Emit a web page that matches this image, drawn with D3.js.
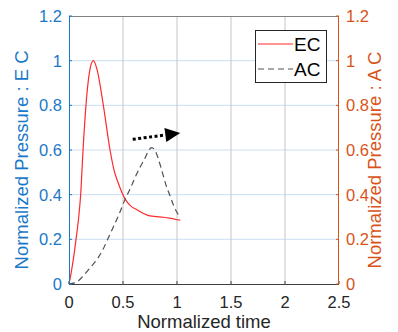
<!DOCTYPE html>
<html>
<head>
<meta charset="utf-8">
<script src="https://d3js.org/d3.v7.min.js"></script>
<style>
  body { margin: 0; background: #fff; }
  svg { font-family: "Liberation Sans", Arial, sans-serif; }
</style>
</head>
<body>
<svg width="398" height="332"></svg>
<script>
// data
const ecTime = [0, 0.02, 0.04, 0.065, 0.09, 0.108, 0.13, 0.157, 0.19, 0.225, 0.26, 0.318, 0.38, 0.417, 0.45, 0.49, 0.52, 0.57, 0.63, 0.69, 0.75, 0.81, 0.873, 0.93, 0.98, 1.03];
const ecVal  = [0, 0.05, 0.11, 0.2, 0.3, 0.4, 0.6, 0.8, 0.95, 1.0, 0.96, 0.8, 0.6, 0.51, 0.46, 0.41, 0.38, 0.35, 0.332, 0.316, 0.305, 0.302, 0.299, 0.295, 0.29, 0.286];
const acTime = [0, 0.05, 0.1, 0.148, 0.2, 0.256, 0.31, 0.358, 0.42, 0.47, 0.52, 0.57, 0.61, 0.66, 0.7, 0.735, 0.765, 0.8, 0.83, 0.87, 0.9, 0.935, 0.97, 1.0, 1.03];
const acVal  = [0, 0.005, 0.02, 0.045, 0.075, 0.108, 0.15, 0.2, 0.265, 0.32, 0.38, 0.43, 0.475, 0.525, 0.56, 0.595, 0.611, 0.595, 0.556, 0.49, 0.44, 0.395, 0.35, 0.32, 0.30];
const xTicks = [0, 0.5, 1, 1.5, 2, 2.5];
const yTicks = [0, 0.2, 0.4, 0.6, 0.8, 1, 1.2];
const arrowFrom = [0.59, 0.648];
const arrowTo = [1.03, 0.676];
const legendNames = ["EC", "AC"];

const svg = d3.select("svg");
const mLeft = 69, mRight = 339, mTop = 16, mBottom = 284;
const blue = "#1a78c8", orange = "#d95319";

const x = d3.scaleLinear().domain([0, 2.5]).range([mLeft, mRight]);
const yL = d3.scaleLinear().domain([0, 1.2]).range([mBottom, mTop]);
const yR = d3.scaleLinear().domain([0, 1.2]).range([mBottom, mTop]);

// grid
svg.append("g").selectAll("line").data(yTicks.filter(d => d > 0 && d < 1.2)).enter().append("line")
  .attr("x1", mLeft).attr("x2", mRight)
  .attr("y1", d => yL(d)).attr("y2", d => yL(d))
  .attr("stroke", "#c9dff2").attr("stroke-width", 1);
svg.append("g").selectAll("line").data(xTicks.filter(d => d > 0 && d < 2.5)).enter().append("line")
  .attr("y1", mTop).attr("y2", mBottom)
  .attr("x1", d => x(d)).attr("x2", d => x(d))
  .attr("stroke", "#c4c4c4").attr("stroke-width", 1);

// box top
svg.append("line").attr("x1", mLeft).attr("x2", mRight).attr("y1", mTop + 0.5).attr("y2", mTop + 0.5)
  .attr("stroke", "#808080");

// curves
const line = d3.line().x(d => x(d[0])).y(d => yL(d[1])).curve(d3.curveMonotoneX);
svg.append("path").datum(ecTime.map((t, i) => [t, ecVal[i]]))
  .attr("d", line).attr("fill", "none").attr("stroke", "#ff2a2a").attr("stroke-width", 1.2);
svg.append("path").datum(acTime.map((t, i) => [t, acVal[i]]))
  .attr("d", d3.line().x(d => x(d[0])).y(d => yR(d[1])).curve(d3.curveMonotoneX))
  .attr("fill", "none").attr("stroke", "#505050").attr("stroke-width", 1.2)
  .attr("stroke-dasharray", "6,4");

// arrow
const ax0 = x(arrowFrom[0]), ay0 = yL(arrowFrom[1]);
const ax1 = x(arrowTo[0]), ay1 = yL(arrowTo[1]);
const ang = Math.atan2(ay1 - ay0, ax1 - ax0);
const headLen = 15, headW = 7;
const bx = ax1 - headLen * Math.cos(ang), by = ay1 - headLen * Math.sin(ang);
svg.append("line").attr("x1", ax0).attr("y1", ay0).attr("x2", bx).attr("y2", by)
  .attr("stroke", "#000").attr("stroke-width", 3).attr("stroke-dasharray", "3,2.5");
svg.append("path")
  .attr("d", `M${ax1},${ay1}L${bx - headW * Math.sin(ang)},${by + headW * Math.cos(ang)}L${bx + headW * Math.sin(ang)},${by - headW * Math.cos(ang)}Z`)
  .attr("fill", "#000");

// axes
svg.append("line").attr("x1", mLeft).attr("x2", mRight).attr("y1", mBottom + 0.5).attr("y2", mBottom + 0.5)
  .attr("stroke", "#404040");
svg.append("g").selectAll("line").data(xTicks).enter().append("line")
  .attr("x1", d => x(d)).attr("x2", d => x(d)).attr("y1", mBottom).attr("y2", mBottom - 3)
  .attr("stroke", "#404040");
svg.append("g").selectAll("text").data(xTicks).enter().append("text")
  .attr("x", d => x(d)).attr("y", 307.5).attr("text-anchor", "middle")
  .attr("font-size", 16.5).attr("fill", "#262626").text(d => d);

svg.append("line").attr("x1", mLeft + 0.5).attr("x2", mLeft + 0.5).attr("y1", mTop).attr("y2", mBottom)
  .attr("stroke", blue);
svg.append("g").selectAll("line").data(yTicks).enter().append("line")
  .attr("x1", mLeft).attr("x2", mLeft + 3).attr("y1", d => yL(d)).attr("y2", d => yL(d))
  .attr("stroke", blue);
svg.append("g").selectAll("text").data(yTicks).enter().append("text")
  .attr("x", 62).attr("y", d => yL(d) + 6).attr("text-anchor", "end")
  .attr("font-size", 16.5).attr("fill", blue).text(d => d);

svg.append("line").attr("x1", mRight - 0.5).attr("x2", mRight - 0.5).attr("y1", mTop).attr("y2", mBottom)
  .attr("stroke", orange);
svg.append("g").selectAll("line").data(yTicks).enter().append("line")
  .attr("x1", mRight).attr("x2", mRight - 3).attr("y1", d => yR(d)).attr("y2", d => yR(d))
  .attr("stroke", orange);
svg.append("g").selectAll("text").data(yTicks).enter().append("text")
  .attr("x", 346).attr("y", d => yR(d) + 6).attr("text-anchor", "start")
  .attr("font-size", 16.5).attr("fill", orange).text(d => d);

// labels
svg.append("text").attr("x", (mLeft + mRight) / 2).attr("y", 328).attr("text-anchor", "middle")
  .attr("font-size", 18.5).attr("fill", "#262626").text("Normalized time");
svg.append("text").attr("transform", "translate(28,160) rotate(-90)").attr("text-anchor", "middle")
  .attr("font-size", 18.5).attr("fill", blue).text("Normalized Pressure : E C");
svg.append("text").attr("transform", "translate(381,160) rotate(-90)").attr("text-anchor", "middle")
  .attr("font-size", 18.5).attr("fill", orange).text("Normalized Pressure : A C");

// legend
const lg = svg.append("g");
lg.append("rect").attr("x", 255.5).attr("y", 30.5).attr("width", 71).attr("height", 52)
  .attr("fill", "#fff").attr("stroke", "#262626").attr("stroke-width", 1);
legendNames.forEach((name, i) => {
  const yy = 44 + i * 25;
  lg.append("line").attr("x1", 258).attr("x2", 293).attr("y1", yy).attr("y2", yy)
    .attr("stroke", i === 0 ? "#ff2a2a" : "#505050").attr("stroke-width", 1.2)
    .attr("stroke-dasharray", i === 0 ? null : "6,4");
  lg.append("text").attr("x", 294).attr("y", yy + 7).attr("font-size", 19)
    .attr("fill", "#000").text(name);
});
</script>
</body>
</html>
